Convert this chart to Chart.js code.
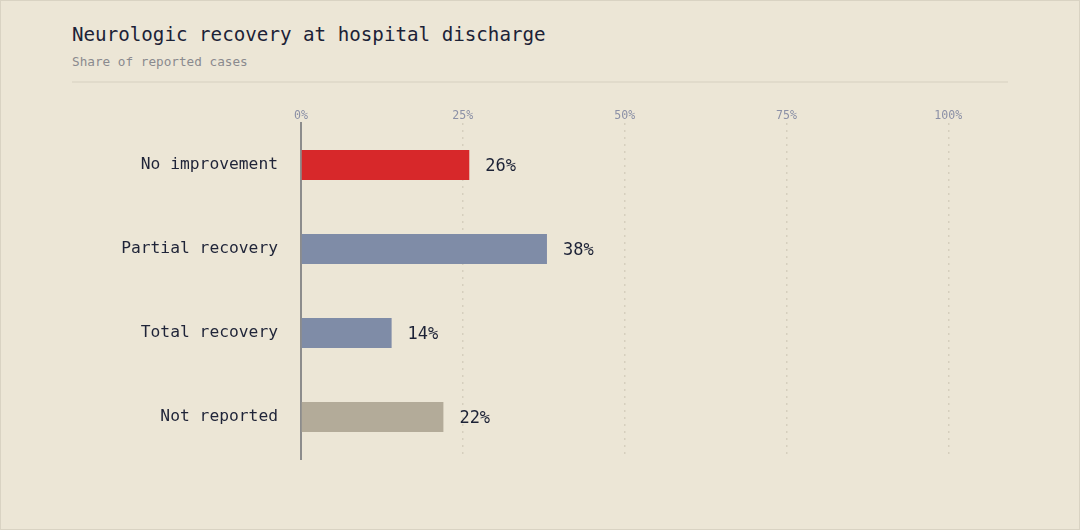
<!DOCTYPE html>
<html>
<head>
<meta charset="utf-8">
<script src="https://cdn.jsdelivr.net/npm/chart.js@4"></script>
<style>
  html, body { margin: 0; padding: 0; background: #ece6d6; }
  #wrap { position: relative; width: 1080px; height: 530px; box-sizing: border-box;
          border: 1px solid #d9d3c3; background: #ece6d6; overflow: hidden;
          font-family: "DejaVu Sans Mono", monospace; }
  #title { position: absolute; left: 71px; top: 22px; font-size: 19.2px; line-height: 24px; color: #1c2236; }
  #sub { position: absolute; left: 71px; top: 53px; font-size: 12.7px; line-height: 16px; color: #8a8a8e; }
  #rule { position: absolute; left: 71px; top: 80px; width: 936px; height: 2px; background: #e1dbcb; }
  #box { position: absolute; left: -1px; top: 89px; width: 1080px; height: 440px; }
</style>
</head>
<body>
<div id="wrap">
  <div id="title">Neurologic recovery at hospital discharge</div>
  <div id="sub">Share of reported cases</div>
  <div id="rule"></div>
  <div id="box"><canvas id="canvas"></canvas></div>
</div>
<script>
let categories = ['No improvement', 'Partial recovery', 'Total recovery', 'Not reported'];
let shares = [26, 38, 14, 22];
let barColors = ['#d7282a', '#7f8ca7', '#7f8ca7', '#b3ab99'];
let tickValues = [0, 25, 50, 75, 100];

Chart.defaults.font.family = '"DejaVu Sans Mono", monospace';

// value labels to the right of each bar
let valueLabels = {
  id: 'valueLabels',
  afterDatasetsDraw(chart) {
    let ctx = chart.ctx;
    let meta = chart.getDatasetMeta(0);
    ctx.save();
    ctx.font = '17px "DejaVu Sans Mono", monospace';
    ctx.fillStyle = '#1c2236';
    ctx.textBaseline = 'middle';
    ctx.textAlign = 'left';
    meta.data.forEach((bar, i) => {
      ctx.fillText(shares[i] + '%', bar.x + 16, bar.y + 2);
    });
    ctx.restore();
  }
};

let ctx = document.getElementById('canvas').getContext('2d');
let myChart = new Chart(ctx, {
  type: 'bar',
  data: {
    labels: categories,
    datasets: [{
      data: shares,
      backgroundColor: barColors,
      borderWidth: 0,
      categoryPercentage: 1,
      barPercentage: 0.357
    }]
  },
  options: {
    indexAxis: 'y',
    responsive: true,
    maintainAspectRatio: false,
    animation: false,
    layout: { padding: { left: 73, right: 67, top: 0, bottom: 71 } },
    plugins: {
      legend: { display: false },
      tooltip: { enabled: false }
    },
    scales: {
      x: {
        position: 'top',
        min: 0,
        max: 110,
        afterFit: s => { s.height = 33; },
        afterBuildTicks: s => { s.ticks = tickValues.map(v => ({ value: v })); },
        ticks: {
          padding: 0,
          color: '#8b90a6',
          font: { size: 11.6 },
          callback: v => v + '%'
        },
        grid: {
          color: '#d6cfbe',
          lineWidth: 1.5,
          drawTicks: false
        },
        border: { display: false, dash: [2, 5] }
      },
      y: {
        afterFit: s => { s.width = 228; },
        ticks: {
          padding: 23,
          color: '#1f2438',
          font: { size: 16.3 }
        },
        grid: { display: false, drawTicks: false },
        border: { display: true, color: '#8c8c8c', width: 2 }
      }
    }
  },
  plugins: [valueLabels]
});
</script>
</body>
</html>
